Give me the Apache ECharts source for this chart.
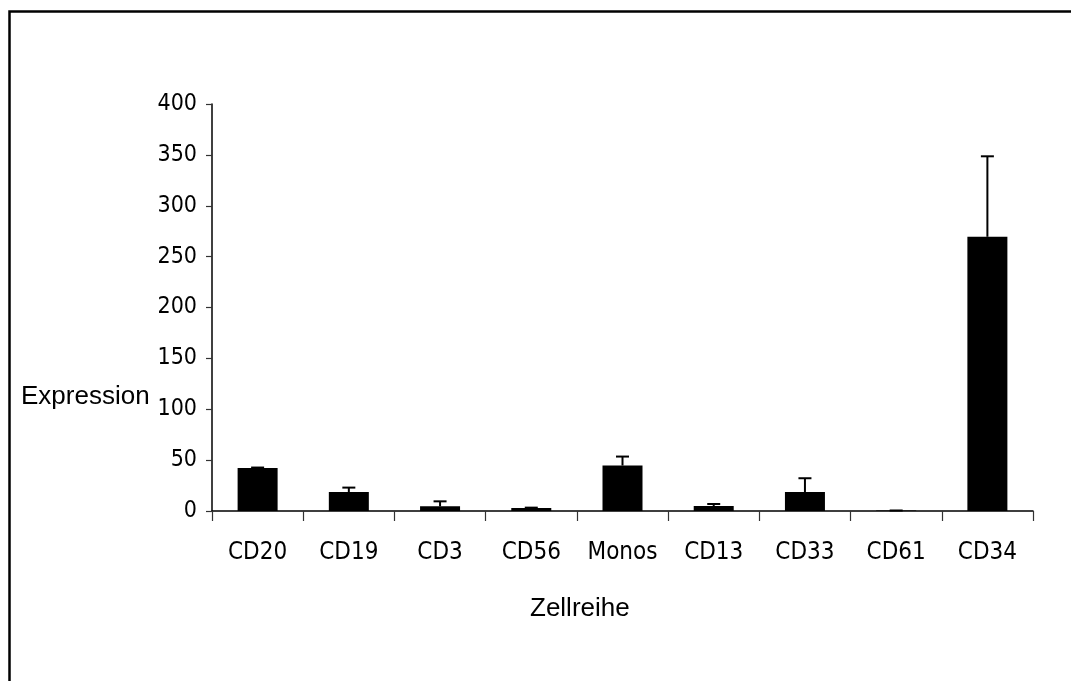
<!DOCTYPE html>
<html>
<head>
<meta charset="utf-8">
<script src="https://cdn.jsdelivr.net/npm/echarts@6/dist/echarts.min.js"></script>
<style>
html,body{margin:0;padding:0;background:#fff;}
#main{width:1071px;height:681px;}
</style>
</head>
<body>
<div id="main"></div>
<script>
const categories = ['CD20', 'CD19', 'CD3', 'CD56', 'Monos', 'CD13', 'CD33', 'CD61', 'CD34'];
const expression = [42.3, 18.7, 4.6, 3.0, 44.7, 4.9, 18.7, 0.5, 269.5];
const errorUp = [0.4, 4.3, 4.9, 0.3, 8.8, 2.0, 13.5, 0.0, 79.1];
const yTicks = [0, 50, 100, 150, 200, 250, 300, 350, 400];

const narrow = "'Liberation Sans Narrow', 'Arial Narrow', 'DejaVu Sans Condensed', 'Liberation Sans', Arial, sans-serif";
const regular = "'Liberation Sans', Arial, sans-serif";

const chart = echarts.init(document.getElementById('main'), null, {renderer: 'canvas'});
const errData = categories.map((c, i) => [i, expression[i], expression[i] + errorUp[i]]);

chart.setOption({
  backgroundColor: '#ffffff',
  animation: false,
  grid: {left: 212, right: 38, top: 104, bottom: 170},
  graphic: [
    {type: 'rect', left: 7, top: 9, shape: {width: 1200, height: 800}, style: {fill: 'none', stroke: '#000', lineWidth: 2.5}, silent: true},
    {type: 'text', left: 21, top: 384, style: {text: 'Expression', font: '26px ' + regular, fill: '#000'}},
    {type: 'text', left: 530, top: 596, style: {text: 'Zellreihe', font: '26px ' + regular, fill: '#000'}}
  ],
  xAxis: {
    type: 'category',
    data: categories,
    axisLine: {lineStyle: {color: '#000', width: 1.5}},
    axisTick: {show: true, interval: 0, length: 10, alignWithLabel: false, lineStyle: {color: '#333', width: 1.2}},
    axisLabel: {interval: 0, color: '#000', fontFamily: narrow, fontSize: 24, margin: 30}
  },
  yAxis: {
    type: 'value',
    min: 0, max: 400, interval: 50,
    splitLine: {show: false},
    axisLine: {show: true, lineStyle: {color: '#000', width: 1.5}},
    axisTick: {show: true, length: 6, lineStyle: {color: '#333', width: 1.2}},
    axisLabel: {color: '#000', fontFamily: narrow, fontSize: 23, margin: 15,
      formatter: v => yTicks.indexOf(v) >= 0 ? String(v) : ''}
  },
  series: [
    {
      type: 'bar',
      data: expression,
      barWidth: 40,
      itemStyle: {color: '#000'}
    },
    {
      type: 'custom',
      data: errData,
      z: 5,
      renderItem: function (params, api) {
        const x = api.value(0);
        const top = api.coord([x, api.value(2)]);
        const base = api.coord([x, api.value(1)]);
        const half = 6.5;
        return {
          type: 'group',
          children: [
            {type: 'line', shape: {x1: top[0], y1: base[1], x2: top[0], y2: top[1]}, style: {stroke: '#000', lineWidth: 2}},
            {type: 'line', shape: {x1: top[0] - half, y1: top[1], x2: top[0] + half, y2: top[1]}, style: {stroke: '#000', lineWidth: 2}}
          ]
        };
      }
    }
  ]
});
</script>
</body>
</html>
